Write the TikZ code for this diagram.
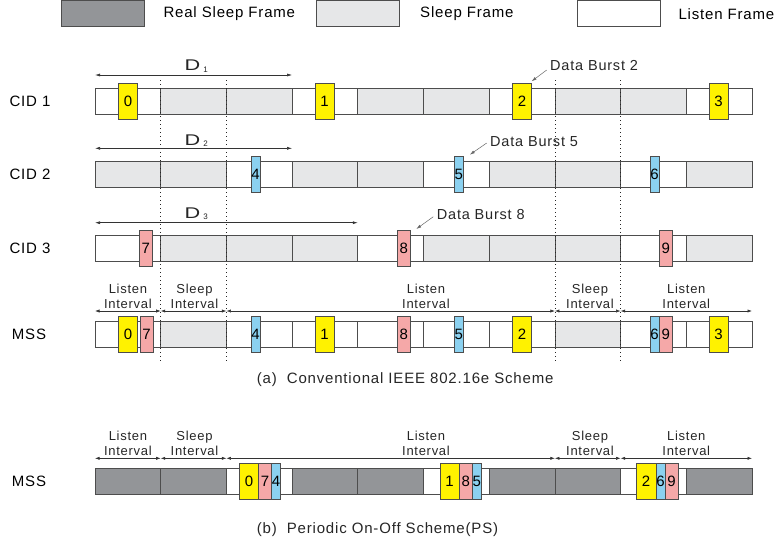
\documentclass[tikz,border=0pt]{standalone}
\usepackage{fontspec}
\setmainfont{Liberation Sans}[LetterSpace=5.5]
\newfontfamily\plainsans{Liberation Sans}
\usetikzlibrary{arrows.meta}
\definecolor{realgray}{RGB}{147,149,152}
\definecolor{sleepgray}{RGB}{230,231,232}
\definecolor{edgegray}{RGB}{77,77,77}
\definecolor{burstyellow}{RGB}{255,242,0}
\definecolor{burstpink}{RGB}{245,168,168}
\definecolor{burstblue}{RGB}{139,209,240}
\tikzset{
	frm/.style={draw=edgegray, line width=0.8pt, minimum width=65.7pt, minimum height=26pt, inner sep=0pt, outer sep=0pt, anchor=north west},
	lfrm/.style={frm, fill=white},
	sfrm/.style={frm, fill=sleepgray},
	rfrm/.style={frm, fill=realgray},
	burst/.style={draw=edgegray, line width=0.7pt, minimum height=36pt, inner sep=0pt, outer sep=0pt, anchor=west, font=\plainsans\fontsize{15}{15}\selectfont},
	yb/.style={burst, fill=burstyellow, minimum width=19.3pt},
	pb/.style={burst, fill=burstpink, minimum width=13pt},
	bb/.style={burst, fill=burstblue, minimum width=9pt},
	keytext/.style={anchor=west, inner sep=0pt, font=\fontsize{15}{18}\selectfont},
	rowlabel/.style={inner sep=0pt, font=\fontsize{15}{18}\selectfont},
	ivlabel/.style={align=center, inner sep=0pt, font=\fontsize{13}{14.4}\selectfont, text=black!85},
	dblabel/.style={anchor=west, inner sep=0pt, font=\fontsize{14.5}{17}\selectfont, text=black!85},
	captext/.style={anchor=west, inner sep=0pt, font=\fontsize{15}{18}\selectfont, text=black!85},
	dlabel/.style={anchor=base, inner sep=0pt, font=\plainsans\fontsize{15.5}{18}\selectfont, text=black!85},
	dim/.style={draw=black!80, line width=0.6pt, {Latex[length=5pt,width=3pt]}-{Latex[length=5pt,width=3pt]}},
	ivl/.style={draw=black!80, line width=0.6pt, {Latex[length=4.5pt,width=3.2pt]}-{Latex[length=4.5pt,width=3.2pt]}},
	ptr/.style={draw=black!60, line width=0.5pt, -{Latex[length=5pt,width=3pt]}},
	guide/.style={draw=black!85, line width=0.8pt, dash pattern=on 0.8pt off 3.2pt},
}
\newcommand{\dsub}[1]{\scalebox{1.4}[1]{D}\rlap{\hspace{3pt}\raisebox{-1.6pt}{\fontsize{8}{8}\selectfont #1}}}

\begin{document}
\begin{tikzpicture}[x=1pt, y=-1pt]
	\useasboundingbox (0,0) rectangle (779,550);
	% legend
	\node[rfrm, minimum width=82.6pt] (keyreal) at (61.7,0.5) {};
	\node[keytext] (keyrealtxt) at (163.3,14) {Real Sleep Frame};
	\node[sfrm, minimum width=83pt] (keysleep) at (316,0.5) {};
	\node[keytext] (keysleeptxt) at (420,14) {Sleep Frame};
	\node[lfrm, minimum width=82.7pt] (keylisten) at (577.3,0.5) {};
	\node[keytext] (keylistentxt) at (678.3,14) {Listen Frame};

	% CID 1
	\node[rowlabel] (cid1) at (30,101.3) {CID 1};
	\foreach \t [count=\i from 0] in {lfrm,sfrm,sfrm,lfrm,sfrm,sfrm,lfrm,sfrm,sfrm,lfrm}
		\node[\t] (ca\i) at ({95+65.7*\i},88.3) {};
	% CID 2
	\node[rowlabel] (cid2) at (30,174.7) {CID 2};
	\foreach \t [count=\i from 0] in {sfrm,sfrm,lfrm,sfrm,sfrm,lfrm,sfrm,sfrm,lfrm,sfrm}
		\node[\t] (cb\i) at ({95+65.7*\i},161.7) {};
	% CID 3
	\node[rowlabel] (cid3) at (30,248) {CID 3};
	\foreach \t [count=\i from 0] in {lfrm,sfrm,sfrm,sfrm,lfrm,sfrm,sfrm,sfrm,lfrm,sfrm}
		\node[\t] (cc\i) at ({95+65.7*\i},235) {};
	% MSS, conventional
	\node[rowlabel] (mssa) at (29,334.7) {MSS};
	\foreach \t [count=\i from 0] in {lfrm,sfrm,lfrm,lfrm,lfrm,lfrm,lfrm,sfrm,lfrm,lfrm}
		\node[\t] (ma\i) at ({95+65.7*\i},321.7) {};
	% MSS, periodic on-off
	\node[rowlabel] (mssb) at (29,481.5) {MSS};
	\foreach \t [count=\i from 0] in {rfrm,rfrm,lfrm,rfrm,rfrm,lfrm,rfrm,rfrm,lfrm,rfrm}
		\node[\t] (mb\i) at ({95+65.7*\i},468.3) {};

	% sleep interval guides
	\foreach \k in {1,2,7,8}
		\draw[guide] ([yshift=8pt]ca\k.north west) -- ([yshift=-16pt]ma\k.south west);

	% bursts
	\node[yb] (c1b0) at (118.3,101.3) {0};
	\node[yb] (c1b1) at (315,101.3) {1};
	\node[yb] (c1b2) at (512.3,101.3) {2};
	\node[yb] (c1b3) at (709,101.3) {3};
	\node[bb] (c2b4) at (251,174.7) {4};
	\node[bb] (c2b5) at (454.3,174.7) {5};
	\node[bb] (c2b6) at (650,174.7) {6};
	\node[pb] (c3b7) at (139.3,248) {7};
	\node[pb] (c3b8) at (397.3,248) {8};
	\node[pb] (c3b9) at (659.3,248) {9};

	\node[yb] (mab0) at (118.3,334.7) {0};
	\node[pb] (mab7) at (140,334.7) {7};
	\node[bb] (mab4) at (251,334.7) {4};
	\node[yb] (mab1) at (315,334.7) {1};
	\node[pb] (mab8) at (397.3,334.7) {8};
	\node[bb] (mab5) at (454.3,334.7) {5};
	\node[yb] (mab2) at (512.3,334.7) {2};
	\node[bb] (mab6) at (650,334.7) {6};
	\node[pb] (mab9) at (659.3,334.7) {9};
	\node[yb] (mab3) at (709,334.7) {3};

	\node[yb] (mbb0) at (239.3,481.5) {0};
	\node[pb] (mbb7) at (mbb0.east) {7};
	\node[bb] (mbb4) at (mbb7.east) {4};
	\node[yb] (mbb1) at (440,481.5) {1};
	\node[pb] (mbb8) at (mbb1.east) {8};
	\node[bb] (mbb5) at (mbb8.east) {5};
	\node[yb, minimum width=20pt] (mbb2) at (636,481.5) {2};
	\node[bb] (mbb6) at (mbb2.east) {6};
	\node[pb] (mbb9) at (mbb6.east) {9};

	% delays
	\draw[dim] ([yshift=13.3pt]ca0.north west) -- ([yshift=13.3pt]ca3.north west);
	\node[dlabel] (d1) at (192.5,70.7) {\dsub{1}};
	\draw[dim] ([yshift=13.4pt]cb0.north west) -- ([yshift=13.4pt]cb3.north west);
	\node[dlabel] (d2) at (192.5,145) {\dsub{2}};
	\draw[dim] ([yshift=12.3pt]cc0.north west) -- ([yshift=12.3pt]cc4.north west);
	\node[dlabel] (d3) at (192.5,218) {\dsub{3}};

	% data burst notes
	\node[dblabel] (db2) at (550,65.7) {Data Burst 2};
	\draw[ptr] ([xshift=-3.3pt,yshift=-4.3pt]db2.west) -- ([yshift=2pt]c1b2.north east);
	\node[dblabel] (db5) at (490,141.7) {Data Burst 5};
	\draw[ptr] ([xshift=-3.3pt,yshift=-1.3pt]db5.west) -- ([xshift=6.5pt,yshift=2pt]c2b5.north east);
	\node[dblabel] (db8) at (436.7,214.3) {Data Burst 8};
	\draw[ptr] ([xshift=-3.4pt,yshift=-2.4pt]db8.west) -- ([xshift=6pt,yshift=1pt]c3b8.north east);

	% intervals, conventional
	\draw[ivl] ([yshift=10.7pt]ma0.north west) -- ([yshift=10.7pt]ma1.north west);
	\draw[ivl] ([yshift=10.7pt]ma1.north west) -- ([yshift=10.7pt]ma2.north west);
	\draw[ivl] ([yshift=10.7pt]ma2.north west) -- ([yshift=10.7pt]ma7.north west);
	\draw[ivl] ([yshift=10.7pt]ma7.north west) -- ([yshift=10.7pt]ma8.north west);
	\draw[ivl] ([yshift=10.7pt]ma8.north west) -- ([yshift=10.7pt]ma9.north east);
	\node[ivlabel] (lia1) at (127.9,296.2) {Listen\\Interval};
	\node[ivlabel] (sia1) at (194.5,296.2) {Sleep\\Interval};
	\node[ivlabel] (lia2) at (426,296.2) {Listen\\Interval};
	\node[ivlabel] (sia2) at (590,296.2) {Sleep\\Interval};
	\node[ivlabel] (lia3) at (686.3,296.2) {Listen\\Interval};
	\node[captext] (capa) at (256.7,380) {(a)\ \ Conventional IEEE 802.16e Scheme};

	% intervals, periodic on-off
	\draw[ivl] ([yshift=10pt]mb0.north west) -- ([yshift=10pt]mb1.north west);
	\draw[ivl] ([yshift=10pt]mb1.north west) -- ([yshift=10pt]mb2.north west);
	\draw[ivl] ([yshift=10pt]mb2.north west) -- ([yshift=10pt]mb7.north west);
	\draw[ivl] ([yshift=10pt]mb7.north west) -- ([yshift=10pt]mb8.north west);
	\draw[ivl] ([yshift=10pt]mb8.north west) -- ([yshift=10pt]mb9.north east);
	\node[ivlabel] (lib1) at (127.9,443.2) {Listen\\Interval};
	\node[ivlabel] (sib1) at (194.5,443.2) {Sleep\\Interval};
	\node[ivlabel] (lib2) at (426,443.2) {Listen\\Interval};
	\node[ivlabel] (sib2) at (590,443.2) {Sleep\\Interval};
	\node[ivlabel] (lib3) at (686.3,443.2) {Listen\\Interval};
	\node[captext] (capb) at (256.7,530) {(b)\ \ Periodic On-Off Scheme(PS)};
\end{tikzpicture}
\end{document}
